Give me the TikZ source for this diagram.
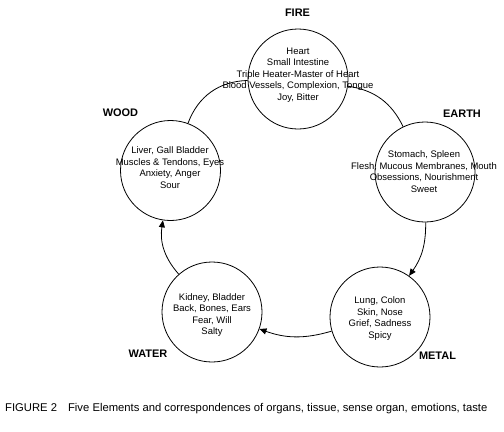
\documentclass[tikz,border=0pt]{standalone}
\usepackage{fontspec}
\setmainfont{Liberation Sans}
\usetikzlibrary{arrows.meta}
\begin{document}
\begin{tikzpicture}[x=1bp,y=1bp,
  elem/.style={circle,draw=black,line width=0.8bp,minimum size=100bp,inner sep=0pt},
  txt/.style={align=center,inner sep=0pt,font=\fontsize{9.5}{11.5}\selectfont},
  lbl/.style={inner sep=0pt,font=\fontsize{11}{13}\selectfont\bfseries},
  link/.style={line width=0.8bp,draw=black},
  arr/.style={link,-{Triangle[length=7bp,width=6bp]}}]
\useasboundingbox (0,0) rectangle (504,431);
\fill[white] (0,0) rectangle (504,431);
% circles
\node[elem] (fire)  at (298,352) {};
\node[elem] (earth) at (425,259) {};
\node[elem] (metal) at (380,114) {};
\node[elem] (water) at (212,119) {};
\node[elem] (wood)  at (170.5,260.5) {};
% texts
\node[txt] (firet) at (298,356) {Heart\\Small Intestine\\Triple Heater-Master of Heart\\Blood Vessels, Complexion, Tongue\\Joy, Bitter};
\node[txt] (eartht) at (424,259.5) {Stomach, Spleen\\Flesh, Mucous Membranes, Mouth\\Obsessions, Nourishment\\Sweet};
\node[txt] (woodt) at (170,263.5) {Liver, Gall Bladder\\Muscles \& Tendons, Eyes\\Anxiety, Anger\\Sour};
\node[txt] (watert) at (212,116) {Kidney, Bladder\\Back, Bones, Ears\\Fear, Will\\Salty};
\node[txt] (metalt) at (380,112.5) {Lung, Colon\\Skin, Nose\\Grief, Sadness\\Spicy};
% labels
\node[lbl] (firel) at (297.5,418) {FIRE};
\node[lbl] (earthl) at (462,317) {EARTH};
\node[lbl] (woodl) at (120.5,318) {WOOD};
\node[lbl] (waterl) at (148,77) {WATER};
\node[lbl] (metall) at (437.5,75) {METAL};
% connectors
\draw[link] (wood) to[bend left=34] (fire);
\draw[link] (fire) to[bend left=28] (earth);
\draw[arr] (earth) to[bend left=18] (metal);
\draw[arr] (metal) to[bend left=18] (water);
\draw[arr] (water) to[bend left=25] (wood);
% caption
\node[anchor=west,inner sep=0pt,font=\fontsize{11.3}{13}\selectfont] (cap) at (5,22) {FIGURE 2\hspace*{11bp}Five Elements and correspondences of organs, tissue, sense organ, emotions, taste};
\end{tikzpicture}
\end{document}
